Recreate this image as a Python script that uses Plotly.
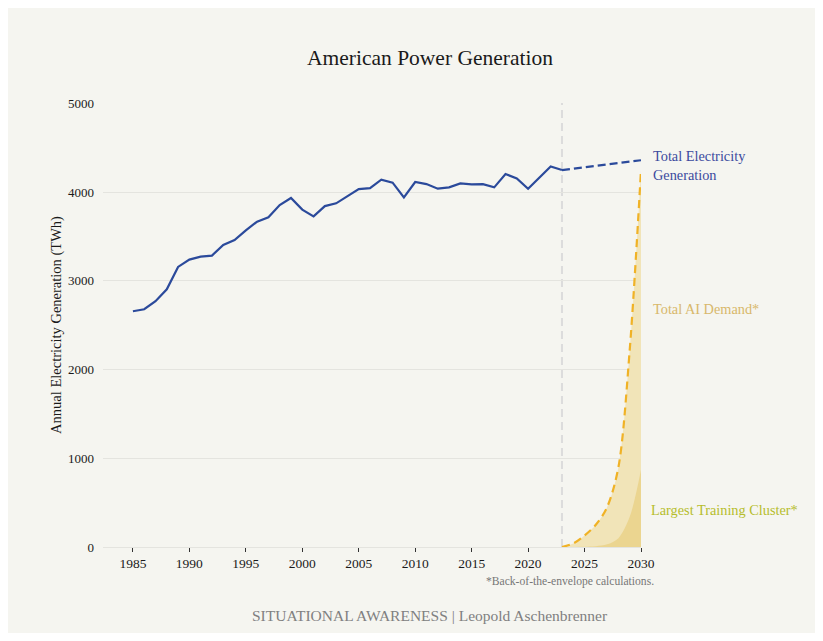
import plotly.graph_objects as go

# Historical total US electricity generation (TWh)
hist_years = list(range(1985, 2024))
hist_twh = [2658, 2680, 2770, 2905, 3157, 3240, 3273, 3285, 3405, 3460,
            3570, 3668, 3716, 3855, 3934, 3803, 3727, 3843, 3874, 3950,
            4035, 4046, 4141, 4107, 3941, 4114, 4091, 4039, 4054, 4099,
            4088, 4091, 4054, 4204, 4155, 4039, 4159, 4290, 4249]

# Projection of total generation
proj_years = [2023, 2030]
proj_twh = [4249, 4360]

# Total AI demand (back-of-the-envelope)
ai_years = [2023, 2024, 2025, 2026, 2027, 2028, 2029, 2030]
ai_twh = [0, 40, 130, 250, 450, 900, 2220, 4250]

# Largest training cluster
cl_years = [2023, 2024, 2025, 2026, 2027, 2028, 2029, 2030]
cl_twh = [0, 1, 3, 9, 30, 100, 340, 870]

x_ticks = [1985, 1990, 1995, 2000, 2005, 2010, 2015, 2020, 2025, 2030]
y_ticks = [0, 1000, 2000, 3000, 4000, 5000]

FONT = "Liberation Serif"
BG = "#f5f5f0"
BLUE = "#2b4a9b"
ORANGE = "#f0b226"

fig = go.Figure()

fig.add_trace(go.Scatter(x=ai_years, y=ai_twh, mode="lines", fill="tozeroy",
                         fillcolor="#f1e4b8", line=dict(width=0, shape="spline", smoothing=0.9),
                         hoverinfo="skip", showlegend=False))
fig.add_trace(go.Scatter(x=cl_years, y=cl_twh, mode="lines", fill="tozeroy",
                         fillcolor="#ebd590", line=dict(width=0, shape="spline", smoothing=0.9),
                         hoverinfo="skip", showlegend=False))
fig.add_trace(go.Scatter(x=ai_years, y=ai_twh, mode="lines",
                         line=dict(color=ORANGE, width=2.2, dash="8px,5px", shape="spline", smoothing=0.9),
                         showlegend=False))
fig.add_trace(go.Scatter(x=hist_years, y=hist_twh, mode="lines",
                         line=dict(color=BLUE, width=2.2), showlegend=False))
fig.add_trace(go.Scatter(x=proj_years, y=proj_twh, mode="lines",
                         line=dict(color=BLUE, width=2.2, dash="8px,4px"), showlegend=False))

fig.add_shape(type="line", xref="x", yref="paper", x0=2023, x1=2023, y0=0, y1=1,
              line=dict(color="#dcdcdc", width=2, dash="8px,5px"), layer="below")

ann = []
ann.append(dict(text="American Power Generation", xref="paper", yref="paper",
                x=0.607, y=1.101, xanchor="center", yanchor="middle", showarrow=False,
                font=dict(family=FONT, size=21.5, color="#1a1a1a")))
ann.append(dict(text="Total Electricity<br>Generation", xref="x", yref="y",
                x=2030, y=4296, xshift=10, xanchor="left", yanchor="middle", align="left",
                showarrow=False, font=dict(family=FONT, size=14.3, color="#3b4a9e")))
ann.append(dict(text="Total AI Demand*", xref="x", yref="y",
                x=2030, y=2680, xshift=10, xanchor="left", yanchor="middle", align="left",
                showarrow=False, font=dict(family=FONT, size=14.3, color="#d8b86b")))
ann.append(dict(text="Largest Training Cluster*", xref="x", yref="y",
                x=2030, y=417, xshift=8, xanchor="left", yanchor="middle", align="left",
                showarrow=False, font=dict(family=FONT, size=14.3, color="#b6bd2c")))
ann.append(dict(text="*Back-of-the-envelope calculations.", xref="x", yref="paper",
                x=2030, y=-0.078, xshift=15, xanchor="right", yanchor="middle",
                showarrow=False, font=dict(family=FONT, size=11.6, color="#777777")))
ann.append(dict(text="SITUATIONAL AWARENESS | Leopold Aschenbrenner", xref="paper", yref="paper",
                x=0.607, y=-0.155, xanchor="center", yanchor="middle",
                showarrow=False, font=dict(family=FONT, size=15.5, color="#808080")))

fig.update_layout(
    width=807, height=625,
    margin=dict(l=95, r=174, t=95, b=86),
    paper_bgcolor=BG, plot_bgcolor=BG,
    font=dict(family=FONT, size=12, color="#222222"),
    annotations=ann,
    xaxis=dict(range=[1982.35, 2030], tickvals=x_ticks, ticks="outside", ticklen=4,
               tickcolor="#333333", tickwidth=1, showgrid=False, zeroline=False,
               showline=False, tickfont=dict(family=FONT, size=13.5, color="#1a1a1a")),
    yaxis=dict(range=[0, 5005], tickvals=y_ticks, showgrid=True, gridcolor="#e4e4df",
               gridwidth=1, zeroline=True, zerolinecolor="#e4e4df", zerolinewidth=1,
               ticks="", ticklabelstandoff=8,
               tickfont=dict(family=FONT, size=13, color="#1a1a1a"),
               title=dict(text="Annual Electricity Generation (TWh)", standoff=2,
                          font=dict(family=FONT, size=14.5, color="#1a1a1a"))),
)

fig.write_html("out.html")
